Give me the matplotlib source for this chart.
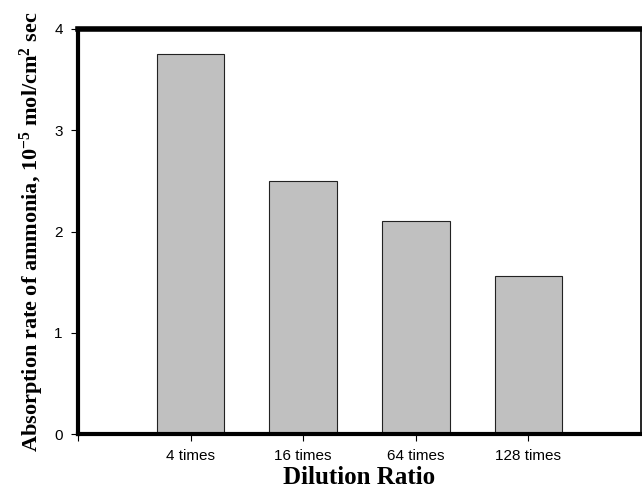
import matplotlib.pyplot as plt
import numpy as np

# datos
categorias = ["4 times", "16 times", "64 times", "128 times"]
tasas = [3.75, 2.5, 2.1, 1.56]

plt.rcParams['mathtext.fontset'] = 'custom'
plt.rcParams['mathtext.rm'] = 'Liberation Serif:bold'
plt.rcParams['mathtext.bf'] = 'Liberation Serif:bold'
plt.rcParams['mathtext.it'] = 'Liberation Serif:bold'

fig = plt.figure(figsize=(6.42, 4.88), dpi=100)
ax = fig.add_axes([78/642, 1 - 434/488, (641 - 78)/642, (434 - 29)/488])

x = np.arange(1, len(categorias) + 1)
ax.bar(x, tasas, width=0.6, color='#c0c0c0', edgecolor='#222222', linewidth=0.8)

ax.set_xlim(0, 5)
ax.set_ylim(0, 4)
ax.set_xticks([0] + list(x))
ax.set_xticklabels([""] + categorias, fontsize=11, family='Liberation Sans')
ax.set_yticks([0, 1, 2, 3, 4])
ax.set_yticklabels(["0", "1", "2", "3", "4"], fontsize=11, family='Liberation Sans')
ax.tick_params(length=5, width=0.8, pad=6)

for lado, grosor in [('left', 3), ('bottom', 3), ('top', 4), ('right', 1.2)]:
    ax.spines[lado].set_linewidth(grosor)

ax.set_xlabel("Dilution Ratio", fontsize=18, fontweight='bold', family='Liberation Serif', labelpad=2)
ax.set_ylabel(r"Absorption rate of ammonia, 10$^{-5}$ mol/cm$^{2}$ sec",
              fontsize=16, fontweight='bold', family='Liberation Serif', labelpad=6)

plt.savefig("out.png", dpi=100)
